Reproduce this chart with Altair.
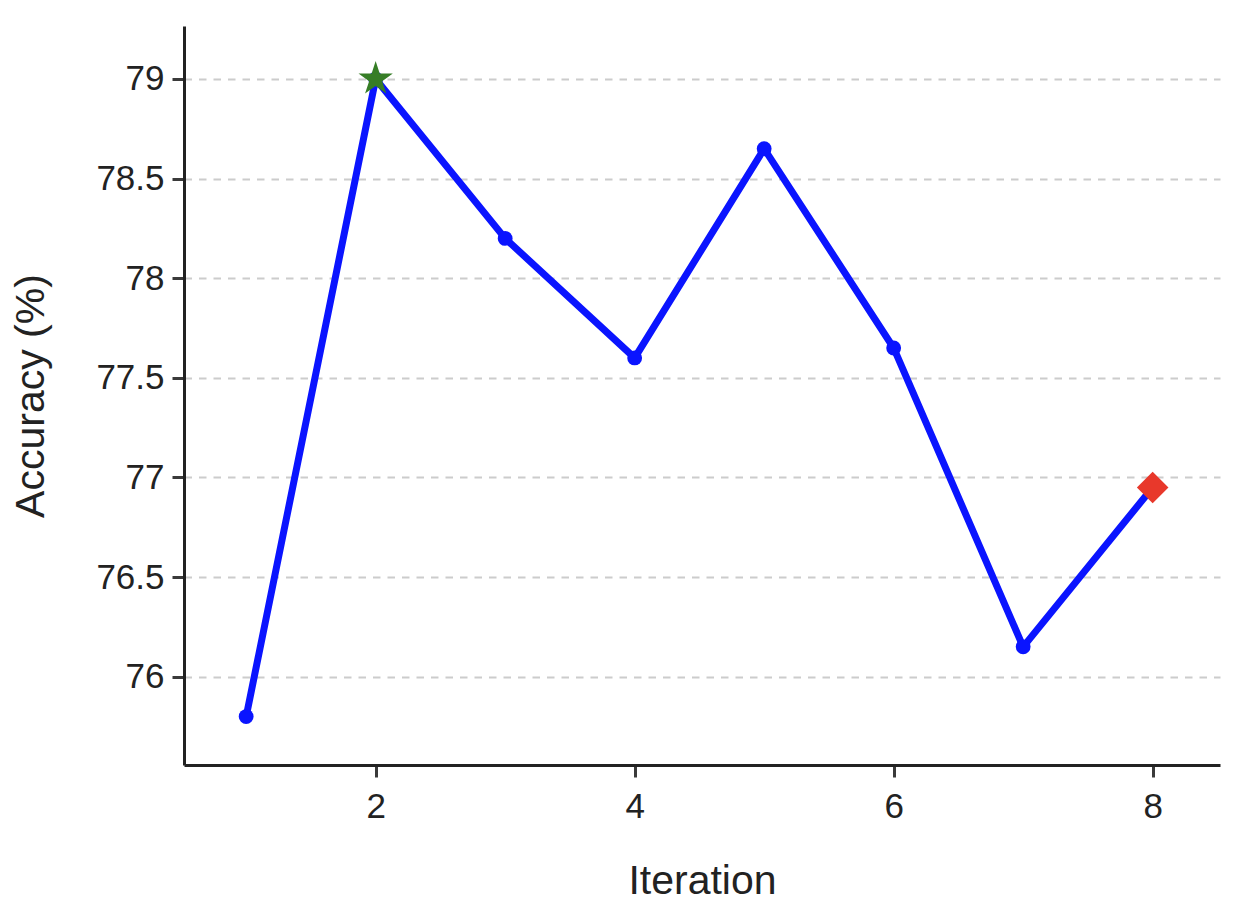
import altair as alt
import pandas as pd

iterations = [1, 2, 3, 4, 5, 6, 7, 8]
accuracy = [75.8, 79.0, 78.2, 77.6, 78.65, 77.65, 76.15, 76.95]
best_iteration = [2]
best_accuracy = [79.0]
final_iteration = [8]
final_accuracy = [76.95]
x_ticks = [2, 4, 6, 8]
y_ticks = [76, 76.5, 77, 77.5, 78, 78.5, 79]

df = pd.DataFrame({"Iteration": iterations, "Accuracy": accuracy})
best_df = pd.DataFrame({"Iteration": best_iteration, "Accuracy": best_accuracy})
final_df = pd.DataFrame({"Iteration": final_iteration, "Accuracy": final_accuracy})

FONT = "Liberation Sans"
STAR = ("M0,-1 L0.2245,-0.309 L0.951,-0.309 L0.363,0.118 L0.588,0.809 "
        "L0,0.382 L-0.588,0.809 L-0.363,0.118 L-0.951,-0.309 L-0.2245,-0.309 Z")

x_enc = alt.X(
    "Iteration:Q",
    scale=alt.Scale(domain=[0.52, 8.52], nice=False, zero=False),
    axis=alt.Axis(
        title="Iteration",
        values=x_ticks,
        format="d",
        grid=False,
        titleBaseline="alphabetic",
        titleY=128,
        titleFontSize=41,
        titleFontWeight="normal",
        labelFontSize=35,
        labelPadding=12,
    ),
)
y_enc = alt.Y(
    "Accuracy:Q",
    scale=alt.Scale(domain=[75.557, 79.266], nice=False, zero=False),
    axis=alt.Axis(
        title="Accuracy (%)",
        values=y_ticks,
        format="~g",
        grid=True,
        gridColor="#cccccc",
        gridWidth=2,
        gridDash=[7.5, 7],
        titleBaseline="alphabetic",
        titleAngle=270,
        titleX=-141,
        titleY=369.5,
        titleAlign="center",
        titleFontSize=41,
        titleFontWeight="normal",
        labelFontSize=35,
        labelPadding=8,
    ),
)

line = alt.Chart(df).mark_line(color="#0a14ff", strokeWidth=7).encode(x=x_enc, y=y_enc)
points = alt.Chart(df).mark_point(
    shape="circle", filled=True, color="#0a14ff", size=220, opacity=1
).encode(x=x_enc, y=y_enc)
best = alt.Chart(best_df).mark_point(
    shape=STAR, filled=True, color="#367d26", size=1300, opacity=1
).encode(x=x_enc, y=y_enc)
final = alt.Chart(final_df).mark_point(
    shape="diamond", filled=True, color="#e8382b", size=1000, opacity=1
).encode(x=x_enc, y=y_enc)

chart = (
    alt.layer(line, points, best, final)
    .properties(
        width=1036,
        height=739,
        autosize=alt.AutoSizeParams(type="none"),
        padding={"left": 176, "top": 18, "right": 6, "bottom": 139},
    )
    .configure_view(stroke=None)
    .configure_axis(
        labelFont=FONT,
        titleFont=FONT,
        labelColor="#222222",
        titleColor="#222222",
        domainColor="#222222",
        domainWidth=3,
        tickColor="#3a3a3a",
        tickWidth=3,
        tickSize=12,
    )
)

chart.save("out.html", embed_options={"renderer": "svg", "actions": False})
